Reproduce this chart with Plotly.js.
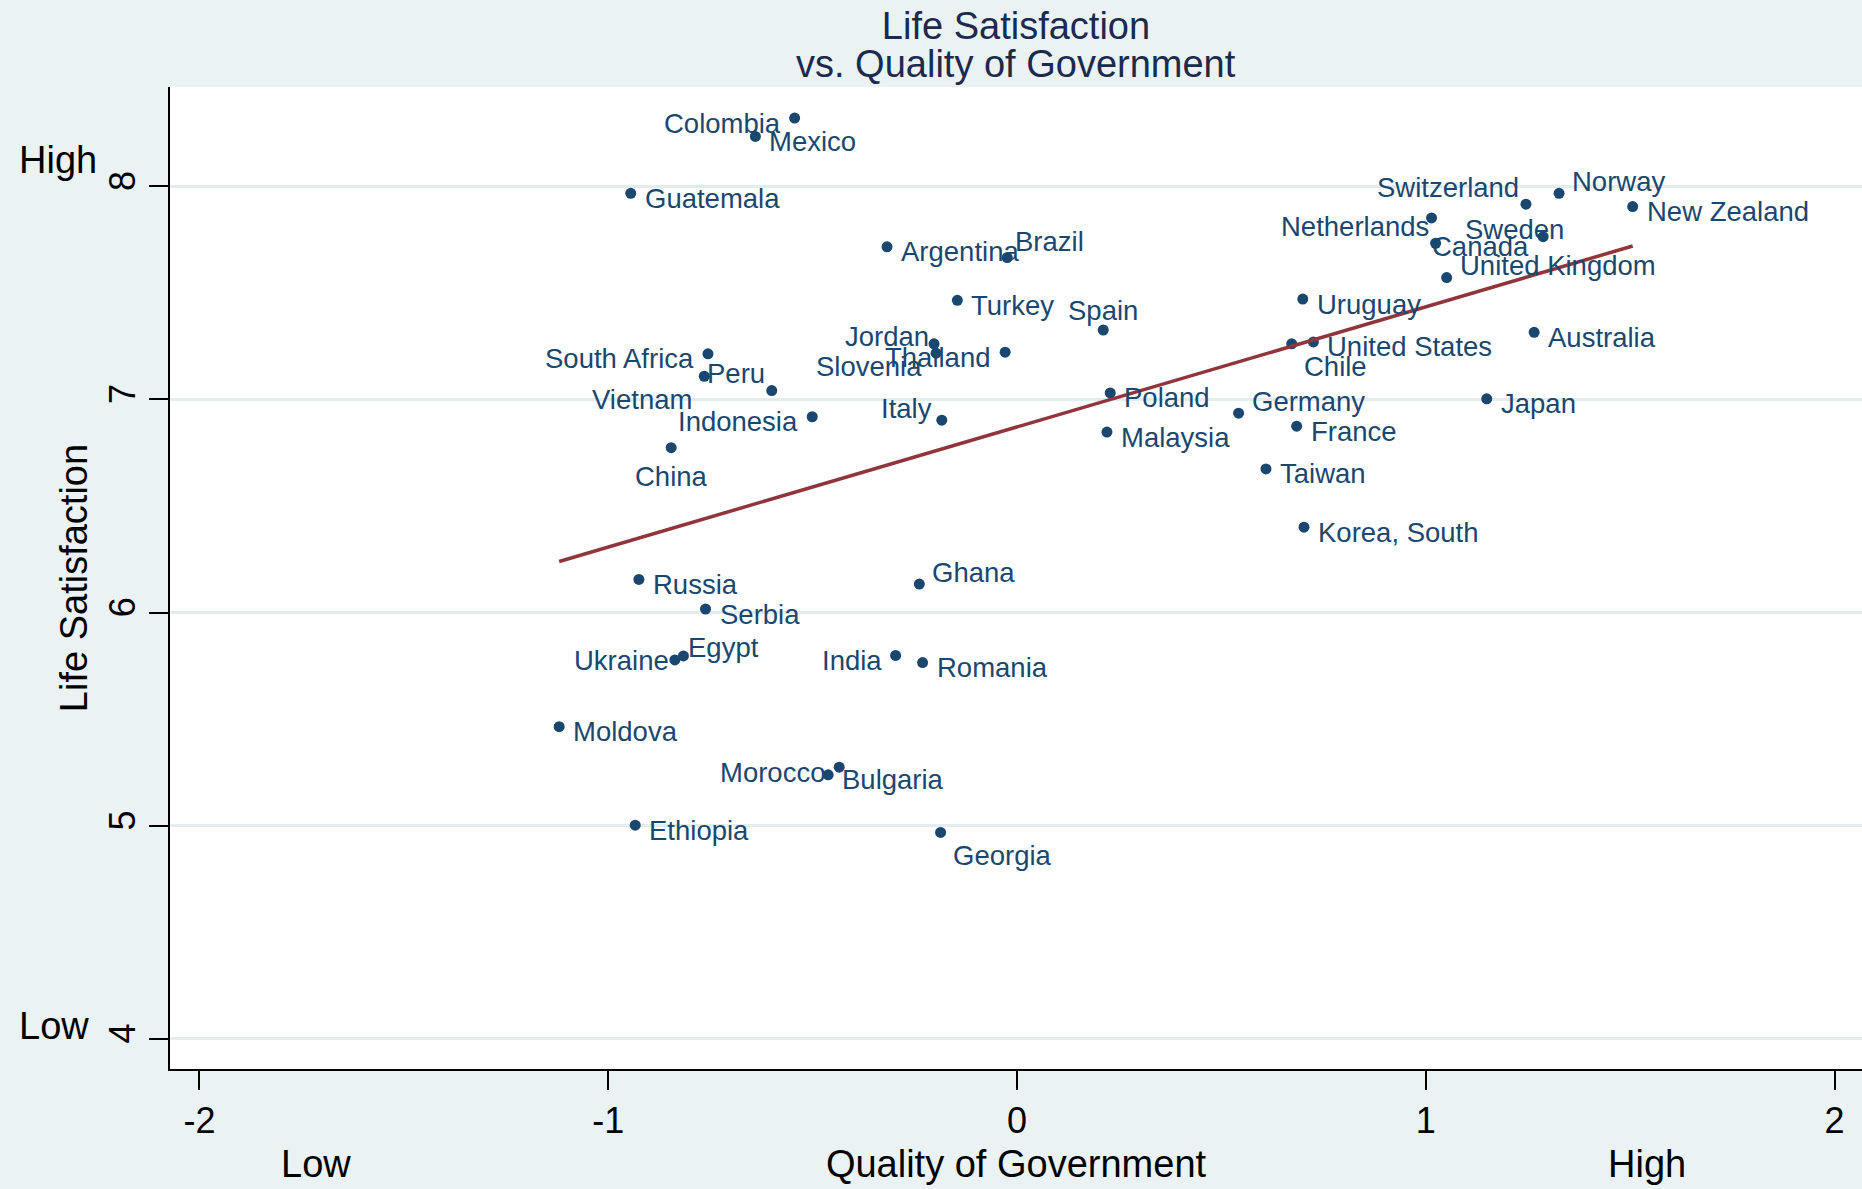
<!DOCTYPE html>
<html>
<head>
<meta charset="utf-8">
<script src="https://cdn.plot.ly/plotly-3.0.1.min.js"></script>
<style>html,body{margin:0;padding:0;background:#EAF2F3;}#chart{width:1862px;height:1189px;}</style>
</head>
<body>
<div id="chart"></div>
<script>
// ---- data ----
const countries = ["Colombia","Mexico","Guatemala","Argentina","Brazil","Turkey","Spain","Jordan","Slovenia","Thailand",
  "South Africa","Vietnam","Peru","Indonesia","Italy","China","Poland","Malaysia","Germany","France",
  "Taiwan","Korea, South","Chile","United States","Uruguay","Japan","Australia","Switzerland","Norway","New Zealand",
  "Netherlands","Canada","Sweden","United Kingdom","Russia","Ghana","Serbia","Ukraine","Egypt","India",
  "Romania","Moldova","Morocco","Bulgaria","Ethiopia","Georgia"];
const qualityOfGov = [-0.544,-0.640,-0.945,-0.318,-0.024,-0.146,0.211,-0.198,-0.203,-0.029,
  -0.756,-0.765,-0.600,-0.501,-0.184,-0.846,0.228,0.220,0.542,0.684,
  0.609,0.702,0.672,0.725,0.699,1.149,1.265,1.245,1.326,1.506,
  1.024,1.287,1.014,1.051,-0.925,-0.239,-0.762,-0.816,-0.837,-0.297,
  -0.231,-1.120,-0.435,-0.462,-0.934,-0.187];
const lifeSatisfaction = [8.320,8.234,7.967,7.716,7.666,7.465,7.326,7.217,7.261,7.222,
  7.214,7.109,7.042,6.919,6.903,6.774,7.031,6.847,6.936,6.875,
  6.674,6.401,7.261,7.270,7.471,7.003,7.315,7.916,7.967,7.905,
  7.733,7.764,7.852,7.572,6.156,6.134,6.017,5.797,5.778,5.799,
  5.766,5.465,5.275,5.239,5.003,4.969];
// marker-label clock positions (Stata style)
const labelClock = [9,3,3,3,1,3,12,11,7,9,
  9,7,11,9,10,6,3,3,2,3,
  3,3,5,3,3,3,3,11,2,3,
  11,8,4,2,3,2,3,9,2,9,
  3,3,9,3,3,5];
// linear fit endpoints (as drawn)
const fitX = [-1.120, 1.506];
const fitY = [6.240, 7.720];
// axis ticks
const xTickVals = [-2,-1,0,1,2];
const xTickText = ["-2","-1","0","1","2"];
const yTickVals = [4,5,6,7,8];
const yTickText = ["4","5","6","7","8"];
const titleLines = ["Life Satisfaction", "vs. Quality of Government"];

// ---- styling ----
const FONT = "'Liberation Sans', Arial, Helvetica, sans-serif";
const NAVY = "#1A476F";
const clockOffsets = {
  0:[0,0,"center"], 1:[8,-16,"left"], 2:[13,-12,"left"], 3:[14,5,"left"], 4:[33,12,"left"],
  5:[12,23,"left"], 6:[0,29,"center"], 7:[-12,23,"right"], 8:[-14,10,"right"], 9:[-14,5,"right"],
  10:[-10,-12,"right"], 11:[-7,-17,"right"], 12:[0,-20,"center"]
};

const annotations = countries.map((c,i)=>{
  const o = clockOffsets[labelClock[i]];
  return {x:qualityOfGov[i], y:lifeSatisfaction[i], xref:"x", yref:"y", text:c, showarrow:false,
    xanchor:o[2], yanchor:"middle", xshift:o[0], yshift:-o[1], borderpad:0, borderwidth:0,
    font:{family:FONT, size:27.5, color:NAVY}};
});
annotations.push(
  {x:0.5, xref:"paper", y:1+(87-64)/982, yref:"paper", text:titleLines[1], showarrow:false, xanchor:"center", yanchor:"middle", font:{family:FONT,size:38,color:"#1B2A4E"}},
  {x:-0.0904, xref:"paper", y:8.124, yref:"y", text:"High", showarrow:false, xanchor:"left", yanchor:"middle", font:{family:FONT,size:38,color:"#000"}},
  {x:-0.0904, xref:"paper", y:4.061, yref:"y", text:"Low", showarrow:false, xanchor:"left", yanchor:"middle", font:{family:FONT,size:38,color:"#000"}},
  {x:-1.715, xref:"x", y:-0.0967, yref:"paper", text:"Low", showarrow:false, xanchor:"center", yanchor:"middle", font:{family:FONT,size:38,color:"#000"}},
  {x:1.541, xref:"x", y:-0.0967, yref:"paper", text:"High", showarrow:false, xanchor:"center", yanchor:"middle", font:{family:FONT,size:38,color:"#000"}}
);

const traces = [
  {x:qualityOfGov, y:lifeSatisfaction, text:countries, type:"scatter", mode:"markers",
   marker:{color:NAVY, size:11}, hoverinfo:"text+x+y", showlegend:false},
  {x:fitX, y:fitY, type:"scatter", mode:"lines", line:{color:"#90353B", width:3.5}, showlegend:false, hoverinfo:"skip"}
];

const layout = {
  width:1862, height:1189,
  paper_bgcolor:"#EAF2F3", plot_bgcolor:"#FFFFFF",
  margin:{l:170, r:0, t:87, b:120, pad:0},
  font:{family:FONT, color:"#000"},
  title:{text:titleLines[0], font:{family:FONT, size:38, color:"#1B2A4E"},
    x:0.5, xref:"paper", xanchor:"center", y:1-26/1189, yref:"container", yanchor:"middle"},
  xaxis:{range:[-2.072, 2.067], tickmode:"array", tickvals:xTickVals, ticktext:xTickText,
    showgrid:false, zeroline:false, showline:true, linecolor:"#000", linewidth:2,
    ticks:"outside", ticklen:19, tickwidth:2, tickcolor:"#000", tickfont:{family:FONT,size:36,color:"#000"},
    title:{text:"Quality of Government", font:{family:FONT,size:38,color:"#000"}, standoff:10}},
  yaxis:{range:[3.859, 8.466], tickmode:"array", tickvals:yTickVals, ticktext:yTickText, tickangle:-90,
    showgrid:true, gridcolor:"#E3ECEF", gridwidth:2.5, zeroline:false, showline:true, linecolor:"#000", linewidth:2,
    ticks:"outside", ticklen:19, tickwidth:2, tickcolor:"#000", tickfont:{family:FONT,size:36,color:"#000"},
    title:{text:"Life Satisfaction", font:{family:FONT,size:38,color:"#000"}, standoff:2}},
  annotations:annotations,
  showlegend:false
};

Plotly.newPlot("chart", traces, layout, {displayModeBar:false});
</script>
</body>
</html>
